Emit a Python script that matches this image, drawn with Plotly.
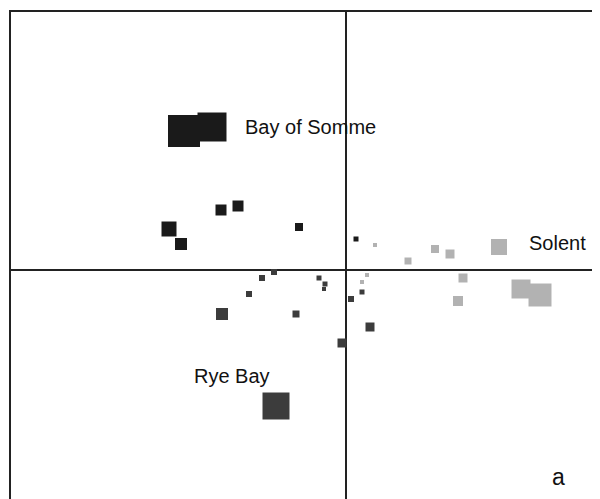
import plotly.graph_objects as go

# Bay of Somme group (dark)
somme_x = [-1.62, -1.34, -1.25, -1.08, -1.77, -1.65, -0.47, 0.10]
somme_y = [1.39, 1.43, 0.60, 0.64, 0.41, 0.26, 0.43, 0.31]
somme_w = [32, 29, 11, 11, 15, 12, 8, 5]

# Rye Bay group (dark grey)
rye_x = [-0.72, -0.84, -0.27, -0.21, -0.22, -0.97, -1.24, -0.50, 0.05, 0.16, 0.24, -0.04, -0.70]
rye_y = [-0.02, -0.08, -0.08, -0.14, -0.19, -0.24, -0.44, -0.44, -0.29, -0.22, -0.57, -0.73, -1.36]
rye_w = [6, 6, 5, 5, 4, 6, 12, 7, 6, 5, 9, 9, 27]

# Solent group (light grey)
solent_x = [0.16, 0.21, 0.29, 0.62, 0.89, 1.04, 1.53, 1.17, 1.12, 1.75, 1.94]
solent_y = [-0.12, -0.05, 0.25, 0.09, 0.21, 0.16, 0.23, -0.08, -0.31, -0.19, -0.25]
solent_w = [4, 4, 4, 7, 8, 9, 16, 9, 10, 19, 23]

labels = ["Bay of Somme", "Solent", "Rye Bay"]
label_x = [-1.03, 1.81, -1.54]
label_y = [1.43, 0.27, -1.06]

fig = go.Figure()
for xs, ys, ws, col in [
    (solent_x, solent_y, solent_w, "#b2b2b2"),
    (rye_x, rye_y, rye_w, "#3c3c3c"),
    (somme_x, somme_y, somme_w, "#1a1a1a"),
]:
    fig.add_trace(go.Scatter(
        x=xs, y=ys, mode="markers",
        marker=dict(symbol="square", size=ws, color=col, opacity=1, line=dict(width=0)),
        hoverinfo="skip", showlegend=False,
    ))

for t, x, y in zip(labels, label_x, label_y):
    fig.add_annotation(x=x, y=y, text=t, showarrow=False, xanchor="left", yanchor="middle",
                       font=dict(family="Liberation Sans, Arial, sans-serif", size=20, color="#111111"))
fig.add_annotation(x=2.12, y=-2.07, text="a", showarrow=False, xanchor="center", yanchor="middle",
                   font=dict(family="Liberation Sans, Arial, sans-serif", size=23, color="#111111"))

fig.update_xaxes(range=[-3.35, 2.54], side="top", showline=True, linecolor="#222222", linewidth=2,
                 showgrid=False, zeroline=True, zerolinecolor="#222222", zerolinewidth=1.5,
                 showticklabels=False, ticks="")
fig.update_yaxes(range=[-2.29, 2.58], showline=True, linecolor="#222222", linewidth=2,
                 showgrid=False, zeroline=True, zerolinecolor="#222222", zerolinewidth=1.5,
                 showticklabels=False, ticks="")
fig.update_layout(width=592, height=491, margin=dict(l=3, r=0, t=4, b=0),
                  paper_bgcolor="white", plot_bgcolor="white")
fig.write_html("out.html")
